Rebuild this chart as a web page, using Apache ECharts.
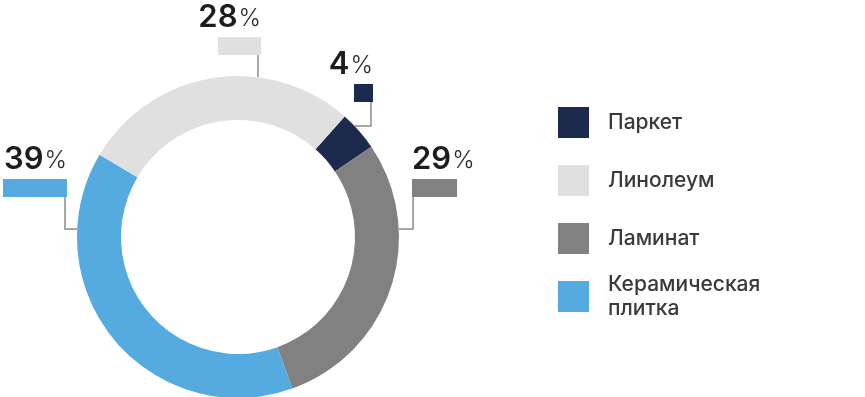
<!DOCTYPE html>
<html>
<head>
<meta charset="utf-8">
<script src="https://cdn.jsdelivr.net/npm/echarts@6/dist/echarts.min.js"></script>
<style>
html,body{margin:0;padding:0;background:#fff;}
#chart{width:865px;height:397px;}
</style>
</head>
<body>
<div id="chart"></div>
<script>
// Data (drawn clockwise in this order)
const categories = ['Паркет', 'Ламинат', 'Керамическая плитка', 'Линолеум'];
const values = [4, 29, 39, 28];
const colors = ['#1c2a4e', '#818181', '#55aadf', '#e0e0e0'];
// Legend order
const legendOrder = ['Паркет', 'Линолеум', 'Ламинат', 'Керамическая плитка'];

// Layout
const CX = 238, CY = 237, R0 = 117, R1 = 161;
const boxWidths = [19, 45, 64, 43];
const labelSpec = [
  { x: 373, y: 102, align: 'right', lineX: 371, lineY: 126, side: 1 },
  { x: 412, y: 197, align: 'left', lineX: 413, lineY: 229, side: 1 },
  { x: 67, y: 197, align: 'right', lineX: 65, lineY: 229, side: -1 },
  { x: 261, y: 55, align: 'right', lineX: 258, lineY: null, side: 0 }
];

const rich = {
  v: { fontFamily: 'Inter', fontSize: 31, fontWeight: 600, color: '#1d1d1d', lineHeight: 38 },
  p: { fontFamily: 'Inter', fontSize: 24, fontWeight: 300, color: '#2a2a2a', lineHeight: 38, padding: [1, 0, 0, 1] }
};
values.forEach((v, i) => {
  rich['b' + i] = { width: boxWidths[i], height: 18, lineHeight: 18, backgroundColor: colors[i] };
});

const ICON = 31, GAP = 27, LEG_TOP = 107, LINE_H = 24;
const legendBase = {
  orient: 'vertical',
  left: 558,
  padding: 0,
  itemWidth: ICON,
  itemHeight: ICON,
  itemGap: GAP,
  icon: 'rect',
  selectedMode: false,
  formatter: n => n === 'Керамическая плитка' ? 'Керамическая\nплитка' : n,
  textStyle: { fontFamily: 'Inter', fontSize: 21, fontWeight: 500, color: '#3a3a3a', lineHeight: LINE_H, padding: [0, 0, 0, 14] }
};
const firstLegend = legendOrder.slice(0, 3);
const lastLegend = legendOrder.slice(3);
// the two-line item: icon top follows the same rhythm, text block is taller than icon
const lastTop = LEG_TOP + 3 * (ICON + GAP) - (2 * LINE_H - ICON) / 2;

const chart = echarts.init(document.getElementById('chart'), null, { renderer: 'canvas' });
chart.setOption({
  backgroundColor: '#ffffff',
  animation: false,
  legend: [
    Object.assign({}, legendBase, { data: firstLegend, top: LEG_TOP }),
    Object.assign({}, legendBase, { data: lastLegend, top: lastTop })
  ],
  series: [{
    type: 'pie',
    center: [CX, CY],
    radius: [R0, R1],
    startAngle: 48.5,
    clockwise: true,
    avoidLabelOverlap: false,
    silent: true,
    emphasis: { disabled: true },
    data: categories.map((c, i) => ({ name: c, value: values[i], itemStyle: { color: colors[i] } })),
    label: {
      show: true,
      position: 'outside',
      formatter: p => '{v|' + p.value + '}{p|%}\n{b' + p.dataIndex + '|}',
      rich: rich
    },
    labelLine: { show: true, lineStyle: { color: '#8c8c8c', width: 1.5 } },
    labelLayout: function (params) {
      const s = labelSpec[params.dataIndex];
      let pts;
      if (s.lineY == null) {
        const yy = CY - Math.sqrt(R1 * R1 - (s.lineX - CX) * (s.lineX - CX));
        pts = [[s.lineX, s.y], [s.lineX, yy]];
      } else {
        const xx = CX + s.side * Math.sqrt(R1 * R1 - (s.lineY - CY) * (s.lineY - CY));
        pts = [[s.lineX, s.y], [s.lineX, s.lineY], [xx, s.lineY]];
      }
      return { x: s.x, y: s.y, align: s.align, verticalAlign: 'bottom', labelLinePoints: pts };
    }
  }]
});
</script>
</body>
</html>
